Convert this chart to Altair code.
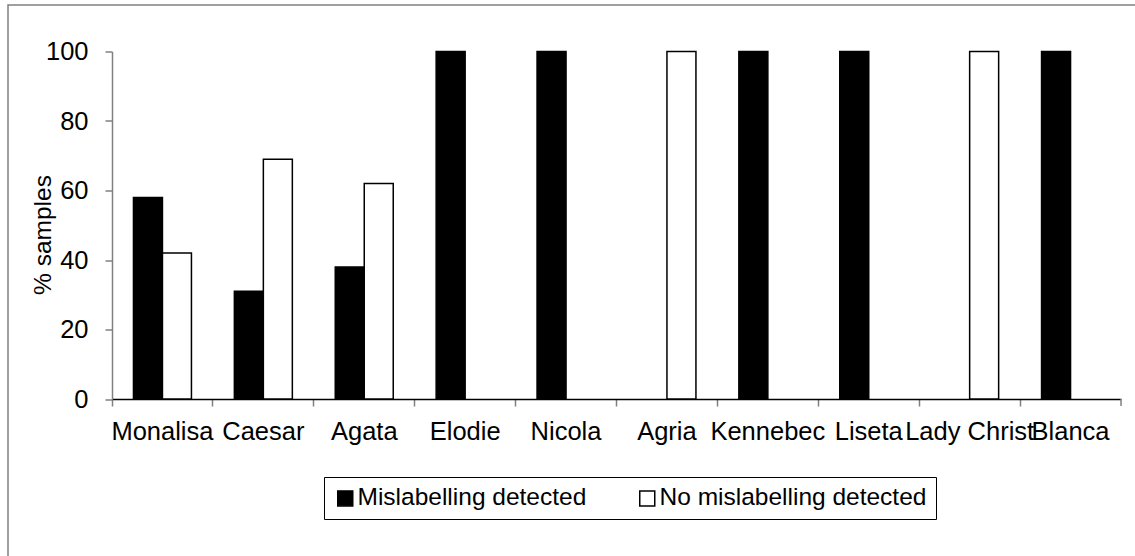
import altair as alt
import pandas as pd

# Share of samples per potato variety, split by mislabelling outcome
varieties = ["Monalisa", "Caesar", "Agata", "Elodie", "Nicola",
             "Agria", "Kennebec", "Liseta", "Lady Christ", "Blanca"]
mislabelling = [58, 31, 38, 100, 100, 0, 100, 100, 0, 100]
no_mislabelling = [42, 69, 62, 0, 0, 100, 0, 0, 100, 0]
statuses = ["Mislabelling detected", "No mislabelling detected"]
y_ticks = [0, 20, 40, 60, 80, 100]

rows = []
for v, a, b in zip(varieties, mislabelling, no_mislabelling):
    rows.append({"variety": v, "status": statuses[0], "pct": a})
    rows.append({"variety": v, "status": statuses[1], "pct": b})
df = pd.DataFrame(rows)

W, H = 1009, 347.5
FONT = "Liberation Sans"
GREY = "#808080"

bars = (
    alt.Chart(df)
    .transform_filter("datum.pct > 0")
    .mark_bar(stroke="black", strokeWidth=1.5, opacity=1)
    .encode(
        x=alt.X(
            "variety:N",
            sort=varieties,
            scale=alt.Scale(domain=varieties, paddingInner=0, paddingOuter=0),
            axis=alt.Axis(
                title=None,
                labelAngle=0,
                bandPosition=0,
                labelPadding=13,
                labelFont=FONT,
                labelFontSize=25.5,
                labelColor="black",
                labelOverlap=False,
                labelLimit=400,
                domainColor="black",
                domainWidth=1.5,
                tickColor=GREY,
                tickWidth=1.5,
                tickSize=7,
            ),
        ),
        xOffset=alt.XOffset(
            "status:N",
            sort=statuses,
            scale=alt.Scale(domain=statuses, paddingInner=0, paddingOuter=0.74),
        ),
        y=alt.Y(
            "pct:Q",
            scale=alt.Scale(domain=[0, 100], nice=False),
            axis=alt.Axis(
                title="% samples",
                titleFont=FONT,
                titleFontSize=24.5,
                titleFontWeight="normal",
                titleColor="black",
                titleAngle=270,
                titleBaseline="bottom",
                titleX=-57,
                titleY=183,
                values=y_ticks,
                grid=False,
                labelFont=FONT,
                labelFontSize=25.5,
                labelColor="black",
                labelPadding=17,
                domainColor=GREY,
                domainWidth=1.5,
                tickColor=GREY,
                tickWidth=1.5,
                tickSize=7,
            ),
        ),
        fill=alt.Fill(
            "status:N",
            scale=alt.Scale(domain=statuses, range=["black", "white"]),
            legend=alt.Legend(
                title=None,
                orient="none",
                legendX=212,
                legendY=425.5,
                direction="horizontal",
                symbolType="square",
                symbolSize=225,
                symbolStrokeColor="black",
                symbolStrokeWidth=1.5,
                symbolOpacity=1,
                labelFont=FONT,
                labelFontSize=24.5,
                labelColor="black",
                labelOffset=0,
                labelLimit=400,
                columnPadding=48,
                padding=9,
                strokeColor="black",
                fillColor="white",
            ),
        ),
    )
)

# closing tick at the right end of the category axis
end_tick = (
    alt.Chart(alt.Data(values=[{}]))
    .mark_rule(color=GREY, strokeWidth=1.5)
    .encode(x=alt.value(W), y=alt.value(H), y2=alt.value(H + 7))
)

# thin grey frame around the whole figure
frame = (
    alt.Chart(alt.Data(values=[{}]))
    .mark_rect(fillOpacity=0, stroke=GREY, strokeWidth=1.5)
    .encode(x=alt.value(-104), y=alt.value(-46.5), x2=alt.value(W + 60), y2=alt.value(H + 200))
)

chart = (
    alt.layer(frame, bars, end_tick)
    .properties(
        width=W,
        height=H,
        autosize=alt.AutoSizeParams(type="none"),
        padding={"left": 112, "top": 51.5, "right": 14, "bottom": 157},
        background="white",
    )
    .configure_view(stroke=None)
)

chart.save("out.html", embed_options={"renderer": "svg", "actions": False})
